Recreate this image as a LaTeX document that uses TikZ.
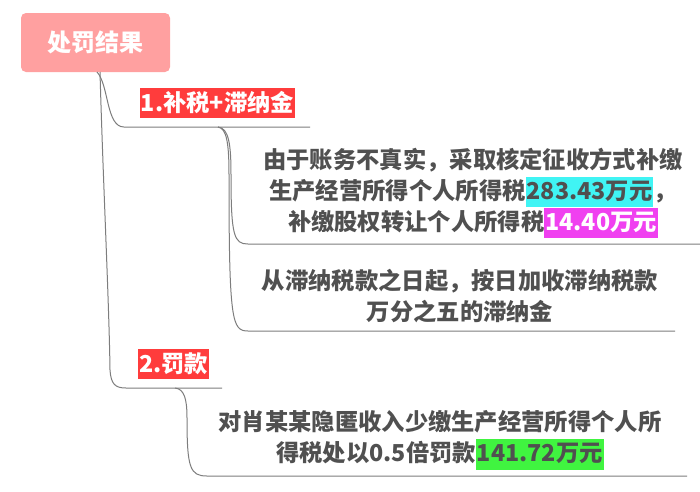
\documentclass[tikz,border=0pt]{standalone}
\usepackage{fontspec}
\setmainfont{Noto Sans CJK SC}
\definecolor{rootpink}{RGB}{255,160,160}
\definecolor{lblred}{RGB}{255,60,60}
\definecolor{cyanhl}{RGB}{64,244,244}
\definecolor{maghl}{RGB}{240,64,240}
\definecolor{greenhl}{RGB}{64,244,64}
\definecolor{txt}{RGB}{80,80,80}
\definecolor{linkgray}{RGB}{125,125,125}
\newcommand\hlbox[3]{{\setlength\fboxsep{0pt}\colorbox{#1}{\rule[-8pt]{0pt}{30.5pt}\kern1pt\color{#2}#3\kern1pt}}}
\newcommand\lnstrut{\rule[-8pt]{0pt}{31pt}}
\newcommand\tightlines{\baselineskip=0pt\lineskip=0pt\lineskiplimit=0pt}
\tikzset{
  rootbox/.style={fill=rootpink, rounded corners=5pt, minimum width=149pt, minimum height=59pt,
    text=white, inner sep=0pt, font=\bfseries\fontsize{24}{28}\selectfont},
  lbl/.style={fill=lblred, text=white, inner sep=1pt, minimum height=30pt,
    font=\bfseries\fontsize{23.3}{28}\selectfont},
  body/.style={align=center, text=txt, inner sep=0pt,
    font=\bfseries\fontsize{23.3}{31}\selectfont\tightlines},
  link/.style={draw=linkgray, line width=1pt}
}
\begin{document}
\begin{tikzpicture}[x=1pt,y=-1pt]
\useasboundingbox (0,0) rectangle (700,491);
\fill[white] (0,0) rectangle (700,491);

\node[rootbox] (root) at (95.5,42.5) {处罚结果};
\node[lbl] (b1) at (217.5,103) {1.补税+滞纳金};
\node[lbl] (b2) at (173.5,364) {2.罚款};
\node[body] (c1) at (473,191.5) {\lnstrut 由于账务不真实，采取核定征收方式补缴\\\lnstrut 生产经营所得个人所得税\hlbox{cyanhl}{txt}{283.43万元}，\\\lnstrut 补缴股权转让个人所得税\hlbox{maghl}{white}{14.40万元}};
\node[body] (c2) at (460,297) {\lnstrut 从滞纳税款之日起，按日加收滞纳税款\\\lnstrut 万分之五的滞纳金};
\node[body] (c3) at (440,438.5) {\lnstrut 对肖某某隐匿收入少缴生产经营所得个人所\\\lnstrut 得税处以0.5倍罚款\hlbox{greenhl}{txt}{141.72万元}};

\coordinate (r1) at (97,72);
\coordinate (r2) at (100,72);
\coordinate (u1a) at (124,127);
\coordinate (u1b) at (310,127);
\coordinate (u2a) at (126,388);
\coordinate (u2b) at (222,388);
\coordinate (k1) at (218,127);
\coordinate (u3a) at (248,244);
\coordinate (u3b) at (700,244);
\coordinate (u4a) at (248,331);
\coordinate (u4b) at (675,331);
\coordinate (k2) at (175,388);
\coordinate (u5a) at (207,476);
\coordinate (u5b) at (687,476);

\draw[link] (r1) .. controls (109,85) and (106,127) .. (u1a) -- (u1b);
\draw[link] (r2) .. controls (103,180) and (109,300) .. (110,370) .. controls (111,384) and (115,388) .. (u2a) -- (u2b);
\draw[link] (k1) .. controls (229,128) and (231,145) .. (231,175) .. controls (231,236) and (234,244) .. (u3a) -- (u3b);
\draw[link] (k1) .. controls (227,128) and (229,145) .. (229,175) .. controls (229,322) and (232,331) .. (u4a) -- (u4b);
\draw[link] (k2) .. controls (184,389) and (187,398) .. (187,418) .. controls (187,468) and (190,476) .. (u5a) -- (u5b);
\end{tikzpicture}
\end{document}
